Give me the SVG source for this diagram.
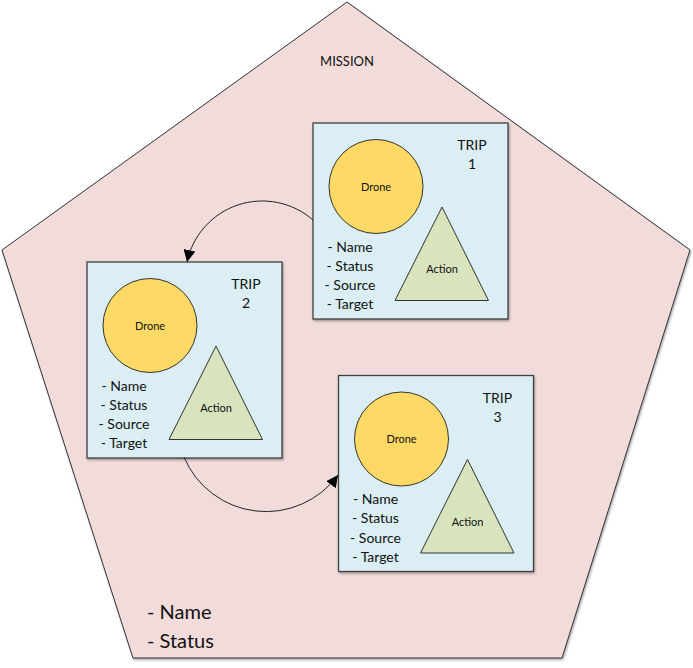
<svg xmlns="http://www.w3.org/2000/svg" width="693" height="668" viewBox="0 0 693 668">
<style>
text{font-family:Lato,"Liberation Sans",sans-serif;fill:#111;}
.pent{fill:#F2DCDB;stroke:#333;stroke-width:1;}
.box{fill:#DAEEF3;stroke:#404040;stroke-width:1.3;}
.drone{fill:#FFD966;stroke:#333;stroke-width:1;}
.action{fill:#D7E4BD;stroke:#333;stroke-width:1;}
.lbl{font-size:14px;text-anchor:middle;}
.sm{font-size:11px;text-anchor:middle;}
.li{font-size:14px;text-anchor:middle;}
.conn{fill:none;stroke:#222;stroke-width:1;marker-end:url(#ah);}
</style>
<defs>
<marker id="ah" markerWidth="12" markerHeight="12" refX="10" refY="5" orient="auto" markerUnits="userSpaceOnUse" viewBox="0 0 10 10">
<path d="M0,0 L10,5 L0,10 z" fill="#000"/>
</marker>
<filter id="sh" x="-5%" y="-5%" width="110%" height="110%">
<feDropShadow dx="1" dy="1.5" stdDeviation="0.8" flood-color="#000" flood-opacity="0.35"/>
</filter>
<g id="trip">
<rect class="box" x="313" y="123" width="195" height="196" filter="url(#sh)"/>
<circle class="drone" cx="376" cy="186.5" r="47"/>
<polygon class="action" points="442,207 395,300.5 488.5,300.5"/>
<text class="sm" x="376" y="190.5">Drone</text>
<text class="sm" x="442" y="273">Action</text>
<text class="li" x="350" y="251.5">- Name</text>
<text class="li" x="350" y="270.7">- Status</text>
<text class="li" x="350" y="290">- Source</text>
<text class="li" x="350" y="309">- Target</text>
</g>
</defs>
<g id="mission">
<polygon class="pent" points="347,2 690,250 562,658 133,658 2,250" filter="url(#sh)"/>
<text x="347" y="66" style="font-size:13px;text-anchor:middle">MISSION</text>
<text x="147" y="619" style="font-size:20px">- Name</text>
<text x="147" y="647.5" style="font-size:20px">- Status</text>
</g>
<g id="trip1">
<use href="#trip"/>
<text class="lbl" x="472" y="150">TRIP</text>
<text class="lbl" x="472" y="169">1</text>
</g>
<g id="trip2" transform="translate(-226,139)">
<use href="#trip"/>
<text class="lbl" x="472" y="150">TRIP</text>
<text class="lbl" x="472" y="169">2</text>
</g>
<g id="trip3" transform="translate(25.5,252.5)">
<use href="#trip"/>
<text class="lbl" x="472" y="150">TRIP</text>
<text class="lbl" x="472" y="169">3</text>
</g>
<g id="connectors">
<path class="conn" d="M313,220 A77,77 0 0 0 187,262"/>
<path class="conn" d="M184,457 A89,89 0 0 0 338,475"/>
</g>
</svg>
